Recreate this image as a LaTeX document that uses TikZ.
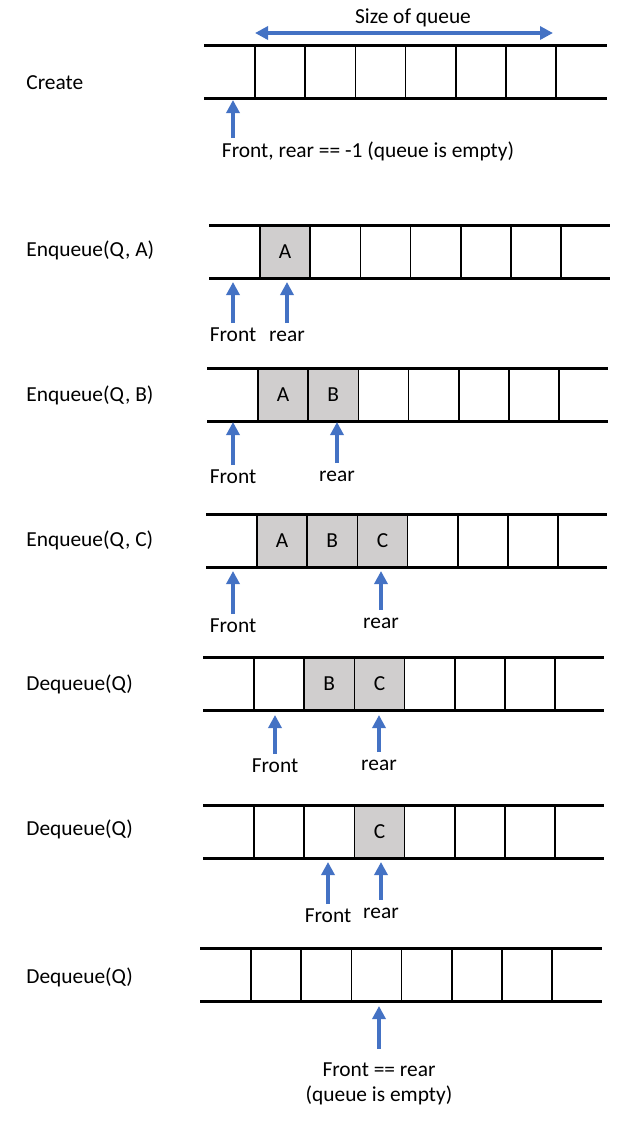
\documentclass[tikz,border=0pt]{standalone}
\usepackage{fontspec}
\setmainfont{Carlito}
\usetikzlibrary{arrows.meta}
\definecolor{qblue}{RGB}{68,114,196}
\definecolor{qgray}{RGB}{208,206,206}

\begin{document}
\begin{tikzpicture}[
            x = 0.5pt,
            y = -0.5pt,
            font = \fontsize{10.7}{12.6}\selectfont,
            cell/.style = {
                rectangle,
                draw,
                line width = 0.75pt,
                inner sep = 0pt,
                minimum width = 25.1pt,
                minimum height = 26.5pt},
            full/.style = {
                cell,
                fill = qgray},
            op/.style = {
                anchor = base west,
                inner sep = 0pt},
            ptrlabel/.style = {
                anchor = base,
                text height = 6.8pt,
                inner sep = 2pt},
            rail/.style = {
                draw,
                line width = 1.5pt},
            ptr/.style = {
                draw = qblue,
                line width = 1.7pt,
                -{Triangle[width = 6.5pt, length = 6.5pt]}},
            sizearrow/.style = {
                draw = qblue,
                line width = 1.7pt,
                {Triangle[width = 6.5pt, length = 6.5pt]}-{Triangle[width = 6.5pt, length = 6.5pt]}}]
        \useasboundingbox (0,0) rectangle (626,1121);

        % Place nodes
        \foreach \r/\L/\R/\T in {1/204/607/45, 2/209/610/225, 3/207/608/368, 4/206/607/514,
                                 5/203/604/657, 6/203/604/805, 7/200/602/948} {
            \coordinate (q\r-nw) at (\L,\T);
            \coordinate (q\r-ne) at (\R,\T);
            \coordinate (q\r-sw) at (\L,\T+53);
            \coordinate (q\r-se) at (\R,\T+53);
            \foreach \i in {1,...,6}
                \node [cell] (q\r-c\i) at ({\L+25.9+50.2*\i}, \T+26.5) {};
        }
        \node [full] (q2-a) at (q2-c1) {A};
        \node [full] (q3-a) at (q3-c1) {A};
        \node [full] (q3-b) at (q3-c2) {B};
        \node [full] (q4-a) at (q4-c1) {A};
        \node [full] (q4-b) at (q4-c2) {B};
        \node [full] (q4-c) at (q4-c3) {C};
        \node [full] (q5-b) at (q5-c2) {B};
        \node [full] (q5-c) at (q5-c3) {C};
        \node [full] (q6-c) at (q6-c3) {C};

        \node [op] (create) at (26,89) {Create};
        \node [op] (enqa) at (26,256) {Enqueue(Q, A)};
        \node [op] (enqb) at (26,401) {Enqueue(Q, B)};
        \node [op] (enqc) at (26,546) {Enqueue(Q, C)};
        \node [op] (deq1) at (26,690) {Dequeue(Q)};
        \node [op] (deq2) at (26,835) {Dequeue(Q)};
        \node [op] (deq3) at (26,983) {Dequeue(Q)};

        \node [anchor = base] (sizelabel) at (413,23) {Size of queue};
        \coordinate (sizel) at (255,33);
        \coordinate (sizer) at (553,33);

        \node [anchor = base] (q1-label) at (368,157) {Front, rear == -1 (queue is empty)};
        \coordinate (q1-tail) at (233,138);
        \coordinate (q1-tip) at (233,100);

        \node [ptrlabel] (q2-front) at (233,341) {Front};
        \node [ptrlabel] (q2-rear) at (287,341) {rear};
        \coordinate (q2-ftip) at (233,282);
        \coordinate (q2-rtip) at (287,282);

        \node [ptrlabel] (q3-front) at (233,483) {Front};
        \node [ptrlabel] (q3-rear) at (337,481) {rear};
        \coordinate (q3-ftip) at (233,422);
        \coordinate (q3-rtip) at (337,422);

        \node [ptrlabel] (q4-front) at (233,632) {Front};
        \node [ptrlabel] (q4-rear) at (381,628) {rear};
        \coordinate (q4-ftip) at (233,571);
        \coordinate (q4-rtip) at (381,571);

        \node [ptrlabel] (q5-front) at (275,772) {Front};
        \node [ptrlabel] (q5-rear) at (379,770) {rear};
        \coordinate (q5-ftip) at (275,715);
        \coordinate (q5-rtip) at (379,715);

        \node [ptrlabel] (q6-front) at (328,922) {Front};
        \node [ptrlabel] (q6-rear) at (381,918) {rear};
        \coordinate (q6-ftip) at (328,862);
        \coordinate (q6-rtip) at (381,862);

        \node [anchor = north, align = center, inner ysep = 6.5pt] (q7-label) at (379,1049)
            {Front == rear\\(queue is empty)};
        \coordinate (q7-tip) at (379,1006);

        % Draw edges
        \foreach \r in {1,...,7}
            \path [rail] (q\r-nw) -- (q\r-ne) (q\r-sw) -- (q\r-se);
        \path [sizearrow] (sizel) -- (sizer);
        \path [ptr] (q1-tail) -- (q1-tip);
        \path [ptr] (q2-front) -- (q2-ftip);
        \path [ptr] (q2-rear) -- (q2-rtip);
        \path [ptr] (q3-front) -- (q3-ftip);
        \path [ptr] (q3-rear) -- (q3-rtip);
        \path [ptr] (q4-front) -- (q4-ftip);
        \path [ptr] (q4-rear) -- (q4-rtip);
        \path [ptr] (q5-front) -- (q5-ftip);
        \path [ptr] (q5-rear) -- (q5-rtip);
        \path [ptr] (q6-front) -- (q6-ftip);
        \path [ptr] (q6-rear) -- (q6-rtip);
        \path [ptr] (q7-label) -- (q7-tip);
    \end{tikzpicture}
\end{document}
